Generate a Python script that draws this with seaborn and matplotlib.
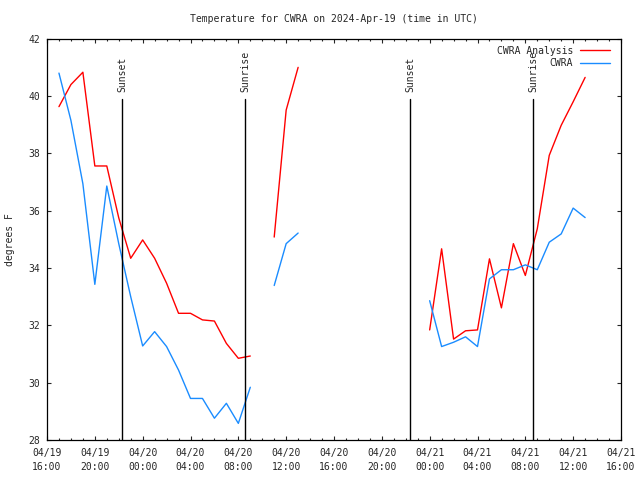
import numpy as np
import pandas as pd
import matplotlib
matplotlib.use("Agg")
import matplotlib.pyplot as plt
import matplotlib.dates as mdates
import matplotlib.transforms as mtransforms
from matplotlib.lines import Line2D
import seaborn as sns

# ---------------- data ----------------
start = pd.Timestamp("2024-04-19 16:00")

analysis_hours = list(range(1, 18)) + [19, 20, 21] + list(range(32, 46))
analysis_temp = [39.63, 40.40, 40.83, 37.56, 37.56, 35.75, 34.34, 34.98, 34.34, 33.47,
                 32.42, 32.42, 32.19, 32.15, 31.37, 30.85, 30.93,
                 35.08, 39.51, 41.00,
                 31.84, 34.67, 31.52, 31.81, 31.84, 34.32, 32.61, 34.85, 33.74, 35.37,
                 37.93, 38.98, 39.80, 40.65]

obs_hours = list(range(1, 18)) + [19, 20, 21] + list(range(32, 46))
obs_temp = [40.80, 39.15, 36.94, 33.43, 36.86, 34.85, 33.00, 31.28, 31.78, 31.26,
            30.44, 29.45, 29.45, 28.76, 29.28, 28.58, 29.84,
            33.39, 34.85, 35.22,
            32.86, 31.26, 31.41, 31.60, 31.26, 33.62, 33.94, 33.94, 34.11, 33.94,
            34.90, 35.19, 36.09, 35.76]

series_names = ["CWRA Analysis", "CWRA"]
series_colors = ["#ff0000", "#1a8cff"]

event_times = ["2024-04-19 22:16", "2024-04-20 08:35", "2024-04-20 22:22", "2024-04-21 08:40"]
event_labels = ["Sunset", "Sunrise", "Sunset", "Sunrise"]

tick_hours = list(range(0, 49, 4))
tick_labels = ["04/19\n16:00", "04/19\n20:00", "04/20\n00:00", "04/20\n04:00",
               "04/20\n08:00", "04/20\n12:00", "04/20\n16:00", "04/20\n20:00",
               "04/21\n00:00", "04/21\n04:00", "04/21\n08:00", "04/21\n12:00",
               "04/21\n16:00"]
y_ticks = [28, 30, 32, 34, 36, 38, 40, 42]

title = "Temperature for CWRA on 2024-Apr-19 (time in UTC)"
ylabel = "degrees F"


def segments(hours):
    seg, out = 0, []
    for i, h in enumerate(hours):
        if i > 0 and h - hours[i - 1] > 1:
            seg += 1
        out.append(seg)
    return out


frames = []
for name, hrs, vals in [(series_names[0], analysis_hours, analysis_temp),
                        (series_names[1], obs_hours, obs_temp)]:
    frames.append(pd.DataFrame({
        "time": start + pd.to_timedelta(hrs, unit="h"),
        "temp": vals,
        "series": name,
        "segment": segments(hrs),
    }))
df = pd.concat(frames, ignore_index=True)

# ---------------- plot ----------------
sns.set_style("white")
plt.rcParams["font.family"] = ["DejaVu Sans Mono"]
plt.rcParams["font.size"] = 7

fig = plt.figure(figsize=(6.4, 4.8), dpi=100)
ax = fig.add_axes([47 / 640, 1 - 440 / 480, (621 - 47) / 640, (440 - 38.7) / 480])

palette = dict(zip(series_names, series_colors))
sns.lineplot(data=df, x="time", y="temp", hue="series", units="segment",
             estimator=None, palette=palette, linewidth=1.0, ax=ax, legend=False)

ax.set_xlim(start, start + pd.Timedelta(hours=48))
ax.set_ylim(28, 42)

tick_times = [start + pd.Timedelta(hours=h) for h in tick_hours]
ax.set_xticks(tick_times)
ax.set_xticklabels(tick_labels)
ax.xaxis.set_minor_locator(mdates.HourLocator(interval=1))
ax.set_yticks(y_ticks)
ax.set_yticklabels([str(v) for v in y_ticks])

ax.tick_params(axis="x", which="major", direction="in", length=3.0, width=0.8,
               top=True, bottom=True, pad=6, labelsize=7)
ax.tick_params(axis="x", which="minor", direction="in", length=1.6, width=0.8,
               top=True, bottom=True)
ax.tick_params(axis="y", which="major", direction="in", length=3.0, width=0.8,
               left=True, right=True, pad=5, labelsize=7)
for lab in ax.get_xticklabels():
    lab.set_linespacing(1.45)

for s in ax.spines.values():
    s.set_color("black")
    s.set_linewidth(0.9)

ax.set_xlabel("")
ax.set_ylabel("")

trans = mtransforms.blended_transform_factory(ax.transData, ax.transAxes)
for t, lab in zip(event_times, event_labels):
    tt = pd.Timestamp(t)
    ax.axvline(tt, ymin=0, ymax=0.849, color="black", linewidth=1.0)
    ax.text(tt, 0.866, lab, rotation=90, ha="center", va="bottom",
            transform=trans, fontsize=7)

handles = [Line2D([], [], color=c, linewidth=1.0) for c in series_colors]
ax.legend(handles, series_names, loc="upper right", bbox_to_anchor=(0.992, 1.0),
          frameon=False, markerfirst=False, handlelength=3.0, handletextpad=0.75,
          labelspacing=0.25, borderaxespad=0.3, fontsize=7)

fig.text(334 / 640, 1 - 19 / 480, title, ha="center", va="center", fontsize=7)
fig.text(10 / 640, 0.5, ylabel, ha="center", va="center", rotation=90, fontsize=7)

fig.savefig("out.png", dpi=100)
